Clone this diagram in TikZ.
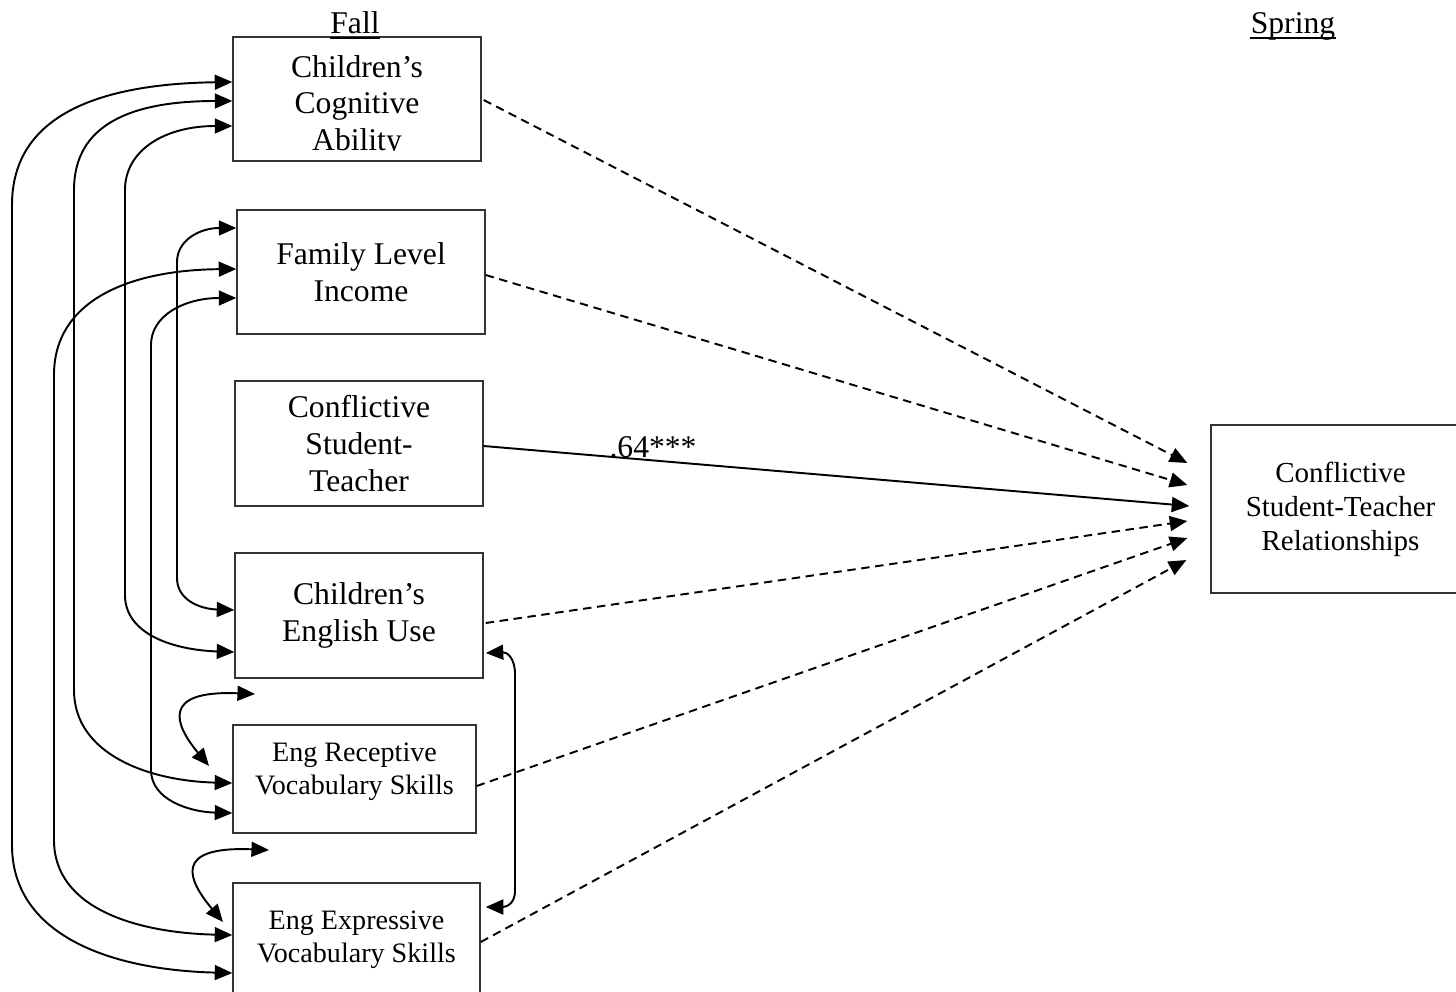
\documentclass[tikz,border=0pt]{standalone}
\usepackage{fontspec}
\setmainfont{Liberation Serif}
\usetikzlibrary{arrows.meta,calc}
\begin{document}
\begin{tikzpicture}[x=0.02cm,y=-0.02cm,
  box/.style={draw=black!80,line width=0.8pt,rectangle,inner sep=0pt,align=center},
  big/.style={font=\fontsize{18}{20.8}\selectfont},
  small/.style={font=\fontsize{16}{19}\selectfont},
  rfont/.style={font=\fontsize{16.5}{19.3}\selectfont},
  tip/.style={line width=1.1pt,-{Triangle[length=10pt,width=8.5pt]}},
  cov/.style={line width=1.1pt,{Triangle[length=10pt,width=8.5pt]}-{Triangle[length=10pt,width=8.5pt]}},
  dsh/.style={dash pattern=on 4.8pt off 3.2pt},
  uline/.style={line width=0.8pt}]
\useasboundingbox (0,0) rectangle (1456,991);

% boxes
\node[box,minimum width=4.96cm,minimum height=2.48cm] (cog) at (357,99) {};
\begin{scope}
  \clip (233,37) rectangle (481,150);
  \node[big,align=center,inner sep=0pt] (cogt) at (357,106) {Children’s\\Cognitive\\Ability};
\end{scope}
\node[box,big,minimum width=4.96cm,minimum height=2.48cm] (fam) at (361,272) {Family Level\\Income};
\node[box,big,minimum width=4.96cm,minimum height=2.5cm] (cst) at (359,443.5) {Conflictive\\Student-\\Teacher};
\node[box,big,minimum width=4.96cm,minimum height=2.5cm] (eng) at (359,615.5) {Children’s\\English Use};
\node[box,minimum width=4.86cm,minimum height=2.16cm] (rec) at (354.5,779) {};
\node[small,align=center,inner sep=0pt] (rect) at (354.5,772) {Eng Receptive\\Vocabulary Skills};
\node[box,small,minimum width=4.94cm,minimum height=2.28cm] (exp) at (356.5,940) {Eng Expressive\\Vocabulary Skills};
\node[box,rfont,minimum width=5.18cm,minimum height=3.36cm] (rel) at (1340.5,509) {Conflictive\\Student-Teacher\\Relationships};

% headings
\node[big,anchor=base,inner sep=0pt] (fall) at (355,33) {Fall};
\draw[uline] ($(fall.base west)+(0,5)$) -- ($(fall.base east)+(0,5)$);
\node[big,anchor=base,inner sep=0pt] (spring) at (1293,33) {Spring};
\draw[uline] ($(spring.base west)+(0,5)$) -- ($(spring.base east)+(0,5)$);

% paths to spring outcome
\coordinate (t1) at ($(rel.west)+(-23,-46)$);
\coordinate (t2) at ($(rel.west)+(-23,-24)$);
\coordinate (t3) at ($(rel.west)+(-21,-3)$);
\coordinate (t4) at ($(rel.west)+(-23,12)$);
\coordinate (t5) at ($(rel.west)+(-23,29)$);
\coordinate (t6) at ($(rel.west)+(-24,51)$);
\draw[tip,dsh] ($(cog.east)+(2,1)$) -- (t1);
\draw[tip,dsh] ($(fam.east)+(0,3)$) -- (t2);
\draw[tip] ($(cst.east)+(0,2.5)$) -- node[pos=0.25,above,big,inner sep=1pt,xshift=-4pt] (coef) {.64***} (t3);
\draw[tip,dsh] ($(eng.east)+(2,7.5)$) -- (t4);
\draw[tip,dsh] ($(rec.east)+(0,7)$) -- (t5);
\draw[tip,dsh] ($(exp.east)+(0,2)$) -- (t6);

% correlations (left side)
\draw[cov] ($(cog.west)+(0,-17)$) .. controls (90,84) and (12,120) .. (12,205)
  -- (12,845) .. controls (12,935) and (110,970) .. ($(exp.west)+(0,33)$);
\draw[cov] ($(cog.west)+(0,2)$) .. controls (130,101) and (74,125) .. (74,190)
  -- (74,690) .. controls (74,755) and (150,781) .. ($(rec.west)+(0,4)$);
\draw[cov] ($(cog.west)+(0,27)$) .. controls (165,126) and (125,150) .. (125,190)
  -- (125,595) .. controls (125,635) and (175,650) .. ($(eng.west)+(0,36.5)$);
\draw[cov] ($(fam.west)+(0,-44)$) .. controls (200,228) and (177,240) .. (177,262)
  -- (177,578) .. controls (177,600) and (200,609) .. ($(eng.west)+(0,-5.5)$);
\draw[cov] ($(fam.west)+(0,-3)$) .. controls (130,270) and (54,300) .. (54,375)
  -- (54,840) .. controls (54,910) and (140,933) .. ($(exp.west)+(0,-5)$);
\draw[cov] ($(fam.west)+(0,26)$) .. controls (185,298) and (151,315) .. (151,345)
  -- (151,770) .. controls (151,800) and (190,812) .. ($(rec.west)+(0,34)$);
% right side
\draw[cov] ($(eng.east)+(2,37.5)$) .. controls (507,652) and (515,658) .. (515,674)
  -- (515,891) .. controls (515,903) and (507,907) .. ($(exp.east)+(5,-33)$);
% small free-standing double arrows
\coordinate (s1a) at (255,694);
\coordinate (s1b) at (209,766);
\coordinate (s2a) at (269,850);
\coordinate (s2b) at (223,922);
\draw[cov] (s1a) .. controls (160,690) and (175,725) .. (s1b);
\draw[cov] (s2a) .. controls (172,846) and (188,880) .. (s2b);
\end{tikzpicture}
\end{document}
